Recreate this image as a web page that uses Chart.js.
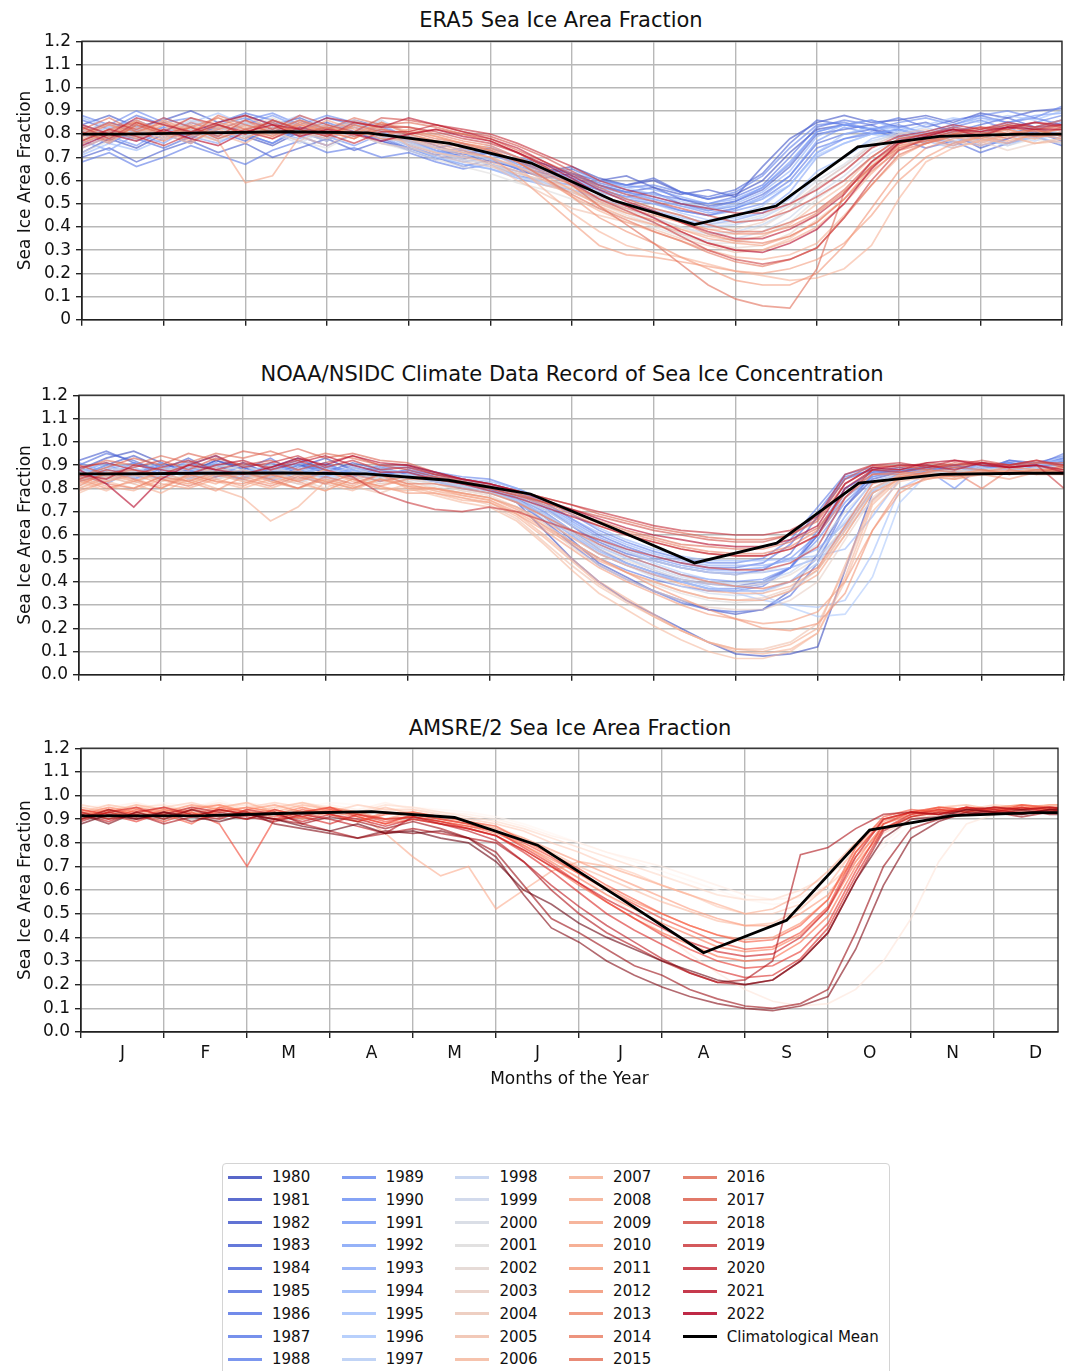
<!DOCTYPE html>
<html>
<head>
<meta charset="utf-8">
<script src="https://cdn.jsdelivr.net/npm/chart.js@4.4.0/dist/chart.umd.min.js"></script>
<style>
  body { margin: 0; background: #fff; font-family: "DejaVu Sans", sans-serif; }
  #page { position: relative; width: 1069px; height: 1371px; overflow: hidden; background: #fff; }
  #page canvas { position: absolute; left: 0; }
  .ttl { position: absolute; width: 800px; text-align: center; font-size: 21px; line-height: 24px; color: #111; white-space: nowrap; }
  #legend { position: absolute; left: 222px; top: 1163px; width: 668px; height: 215px; border: 1px solid #d4d4d4; border-radius: 4px; box-sizing: border-box; }
  .lg-line { position: absolute; width: 34px; height: 3px; }
  .lg-text { position: absolute; font-size: 15px; line-height: 18px; color: #111; white-space: nowrap; }
</style>
</head>
<body>
<div id="page">
  <div class="ttl" style="left:161px;top:8px">ERA5 Sea Ice Area Fraction</div>
  <div class="ttl" style="left:172px;top:362px">NOAA/NSIDC Climate Data Record of Sea Ice Concentration</div>
  <div class="ttl" style="left:170px;top:716px">AMSRE/2 Sea Ice Area Fraction</div>
  <canvas id="c1"></canvas>
  <canvas id="c2"></canvas>
  <canvas id="c3"></canvas>
  <div id="legend"></div>
</div>
<script>
  'use strict';

  // month axis
  var monthLabels = ['J', 'F', 'M', 'A', 'M', 'J', 'J', 'A', 'S', 'O', 'N', 'D'];
  var monthEdges = [0, 1, 2, 3, 4, 5, 6, 7, 8, 9, 10, 11, 12];
  var monthMids = [0.5, 1.5, 2.5, 3.5, 4.5, 5.5, 6.5, 7.5, 8.5, 9.5, 10.5, 11.5];

  // yearly curves are read about every 10 days (position in months)
  var sampleMonths = [0, 0.333, 0.667, 1, 1.333, 1.667, 2, 2.333, 2.667, 3, 3.333, 3.667, 4, 4.333, 4.667, 5, 5.333, 5.667, 6,
    6.333, 6.667, 7, 7.333, 7.667, 8, 8.333, 8.667, 9, 9.333, 9.667, 10, 10.333, 10.667, 11, 11.333, 11.667, 12];
  // climatological mean: monthly values at mid-month, held to the edges
  var meanMonths = [0, 0.5, 1.5, 2.5, 3.5, 4.5, 5.5, 6.5, 7.5, 8.5, 9.5, 10.5, 11.5, 12];

  // values are in percent of area
  var era5Years = [1980, 1981, 1982, 1983, 1984, 1985, 1986, 1987, 1988, 1989, 1990, 1991, 1992, 1993, 1994, 1995, 1996, 1997, 1998, 1999, 2000,
    2001, 2002, 2003, 2004, 2005, 2006, 2007, 2008, 2009, 2010, 2011, 2012, 2013, 2014, 2015, 2016, 2017, 2018, 2019, 2020, 2021, 2022];
  var era5Mean = [80, 80, 80.5, 81, 80.5, 76, 67.5, 51.5, 41, 49, 74.5, 79, 80, 80];
  var era5Values = [
    [72, 78, 74, 80, 76, 83, 79, 75, 81, 77, 84, 80, 76, 72, 69, 73, 68, 64, 66, 61, 58, 60, 55, 52, 54, 60, 72, 82, 84, 82, 80, 78, 81, 77, 80, 83, 79], // 1980
    [84, 88, 83, 86, 90, 85, 88, 84, 87, 82, 86, 83, 79, 75, 71, 74, 70, 67, 63, 60, 62, 57, 54, 56, 53, 66, 78, 85, 88, 85, 86, 88, 85, 89, 87, 90, 91],
    [70, 74, 68, 73, 77, 72, 76, 70, 74, 78, 73, 77, 74, 70, 66, 69, 65, 61, 63, 58, 55, 57, 52, 49, 51, 56, 66, 80, 82, 84, 79, 76, 80, 74, 78, 81, 77],
    [80, 76, 82, 78, 85, 81, 77, 83, 79, 75, 80, 78, 74, 71, 73, 68, 66, 63, 65, 60, 58, 61, 55, 53, 56, 63, 76, 86, 84, 86, 83, 85, 81, 84, 87, 83, 86],
    [76, 81, 78, 74, 79, 83, 80, 76, 82, 85, 81, 77, 73, 69, 72, 67, 64, 62, 59, 56, 53, 55, 50, 47, 49, 54, 62, 76, 80, 82, 78, 74, 77, 72, 76, 79, 75],
    [86, 82, 88, 84, 80, 85, 89, 86, 82, 87, 84, 80, 77, 74, 70, 72, 67, 64, 62, 59, 56, 54, 52, 50, 53, 58, 70, 83, 86, 84, 87, 83, 86, 88, 85, 87, 84], // 1985
    [68, 72, 66, 70, 75, 71, 67, 73, 77, 72, 74, 70, 72, 68, 65, 67, 62, 60, 58, 55, 52, 50, 47, 45, 48, 52, 60, 74, 78, 80, 82, 79, 76, 80, 83, 78, 81],
    [81, 85, 80, 83, 78, 84, 87, 82, 86, 81, 85, 82, 78, 74, 76, 71, 68, 65, 63, 60, 57, 58, 55, 52, 55, 62, 74, 84, 85, 82, 84, 80, 83, 86, 82, 85, 88],
    [88, 84, 90, 85, 87, 82, 86, 89, 84, 88, 85, 81, 77, 73, 70, 72, 68, 64, 61, 58, 55, 53, 50, 48, 51, 57, 67, 81, 84, 82, 85, 87, 84, 88, 90, 87, 92],
    [74, 79, 75, 82, 78, 84, 80, 76, 83, 79, 75, 80, 75, 71, 68, 70, 65, 62, 60, 56, 53, 51, 47, 45, 47, 50, 58, 72, 78, 81, 79, 76, 79, 75, 78, 82, 80],
    [80, 85, 81, 87, 83, 79, 84, 88, 83, 80, 85, 81, 76, 72, 74, 69, 66, 63, 61, 57, 55, 52, 49, 46, 48, 53, 62, 77, 83, 80, 82, 79, 82, 80, 84, 82, 85], // 1990
    [77, 73, 80, 76, 83, 79, 85, 81, 78, 84, 80, 82, 78, 74, 71, 73, 68, 65, 63, 60, 58, 56, 53, 50, 52, 57, 68, 81, 84, 82, 83, 81, 84, 87, 85, 88, 89],
    [84, 80, 78, 83, 79, 76, 82, 86, 81, 78, 83, 79, 74, 70, 67, 65, 61, 58, 56, 52, 49, 46, 43, 41, 43, 46, 55, 70, 76, 80, 82, 78, 75, 79, 76, 80, 78],
    [79, 83, 86, 81, 84, 78, 82, 85, 80, 84, 81, 85, 77, 73, 70, 72, 66, 63, 60, 57, 54, 52, 49, 47, 50, 55, 64, 79, 84, 86, 82, 80, 83, 81, 85, 83, 86],
    [71, 76, 73, 78, 82, 77, 80, 84, 79, 83, 80, 76, 74, 70, 67, 65, 62, 59, 56, 53, 50, 47, 44, 42, 44, 46, 52, 64, 70, 78, 81, 77, 74, 78, 75, 79, 76],
    [87, 83, 86, 81, 85, 89, 84, 80, 86, 82, 79, 84, 76, 72, 70, 73, 67, 64, 61, 56, 53, 50, 46, 43, 45, 49, 58, 72, 80, 83, 81, 84, 87, 85, 88, 86, 90], // 1995
    [80, 76, 83, 79, 86, 81, 78, 84, 88, 83, 80, 86, 80, 76, 73, 75, 70, 66, 64, 60, 57, 54, 51, 48, 49, 52, 58, 71, 76, 80, 78, 81, 77, 80, 76, 79, 82],
    [75, 80, 84, 78, 82, 79, 85, 81, 77, 83, 86, 81, 77, 72, 69, 67, 63, 60, 58, 53, 50, 47, 43, 40, 41, 44, 50, 62, 70, 77, 80, 83, 79, 76, 80, 77, 81],
    [82, 78, 84, 80, 76, 83, 79, 85, 81, 78, 83, 80, 75, 70, 68, 66, 62, 58, 55, 51, 48, 44, 40, 37, 38, 41, 47, 58, 66, 75, 80, 77, 81, 79, 82, 80, 78],
    [77, 83, 80, 86, 81, 78, 84, 80, 76, 82, 85, 79, 76, 72, 70, 67, 64, 59, 55, 50, 46, 42, 37, 34, 35, 38, 44, 54, 62, 72, 78, 81, 78, 82, 79, 83, 80],
    [84, 80, 77, 82, 86, 83, 79, 84, 81, 77, 83, 86, 78, 74, 72, 69, 66, 62, 59, 55, 52, 48, 45, 41, 42, 45, 50, 60, 67, 76, 81, 78, 82, 80, 84, 81, 84], // 2000
    [72, 77, 82, 78, 83, 80, 85, 81, 77, 74, 80, 76, 73, 69, 66, 63, 59, 56, 52, 48, 44, 40, 36, 33, 33, 36, 42, 52, 60, 70, 77, 80, 76, 79, 75, 78, 76],
    [81, 85, 79, 84, 80, 77, 83, 87, 82, 79, 84, 80, 76, 72, 69, 67, 63, 60, 56, 51, 47, 44, 40, 36, 37, 40, 47, 57, 64, 74, 79, 76, 80, 78, 82, 79, 80],
    [77, 80, 85, 81, 84, 79, 82, 86, 83, 80, 85, 82, 78, 74, 72, 70, 66, 61, 56, 50, 45, 41, 37, 33, 31, 32, 37, 46, 55, 67, 76, 78, 74, 77, 73, 76, 78],
    [83, 79, 81, 86, 82, 85, 79, 81, 77, 83, 80, 76, 74, 71, 68, 66, 63, 60, 57, 53, 49, 46, 42, 39, 39, 42, 49, 58, 66, 75, 80, 82, 79, 77, 80, 78, 81],
    [79, 85, 78, 82, 87, 83, 80, 84, 79, 75, 81, 78, 77, 74, 71, 67, 60, 54, 48, 45, 42, 39, 35, 32, 29, 30, 35, 43, 52, 65, 75, 78, 80, 77, 79, 76, 78], // 2005
    [76, 81, 86, 80, 83, 78, 84, 80, 85, 82, 78, 83, 75, 72, 70, 68, 64, 58, 55, 50, 46, 43, 39, 36, 34, 36, 41, 50, 58, 70, 78, 80, 77, 75, 79, 76, 77],
    [80, 84, 79, 85, 81, 87, 83, 79, 84, 81, 86, 82, 79, 77, 75, 73, 66, 56, 46, 38, 32, 29, 27, 24, 21, 19, 17, 18, 22, 32, 52, 68, 74, 77, 80, 78, 81],
    [74, 79, 83, 78, 84, 80, 76, 83, 81, 78, 84, 80, 78, 75, 72, 70, 66, 60, 53, 47, 42, 38, 34, 30, 27, 26, 28, 33, 45, 58, 70, 76, 79, 76, 80, 82, 79],
    [82, 78, 85, 80, 76, 83, 88, 82, 86, 83, 80, 85, 80, 77, 75, 73, 68, 62, 56, 49, 44, 41, 38, 33, 30, 30, 34, 40, 50, 63, 74, 78, 81, 78, 76, 80, 82],
    [78, 82, 80, 86, 81, 77, 59, 62, 79, 84, 80, 85, 81, 79, 76, 74, 70, 64, 58, 51, 46, 43, 39, 35, 33, 32, 36, 42, 52, 66, 76, 78, 75, 79, 82, 79, 80], // 2010
    [81, 76, 84, 79, 85, 82, 78, 84, 80, 86, 82, 78, 78, 76, 73, 70, 62, 52, 42, 32, 28, 27, 25, 23, 21, 20, 22, 26, 33, 45, 60, 70, 76, 79, 77, 80, 78],
    [76, 81, 78, 84, 79, 85, 82, 78, 84, 80, 83, 79, 82, 79, 76, 74, 68, 61, 53, 44, 38, 33, 27, 22, 17, 15, 15, 20, 32, 48, 64, 74, 78, 80, 82, 79, 83],
    [83, 79, 86, 81, 77, 82, 86, 80, 84, 81, 78, 85, 80, 77, 74, 72, 69, 63, 58, 52, 48, 45, 42, 39, 37, 37, 40, 46, 55, 66, 75, 77, 80, 78, 81, 79, 80],
    [79, 84, 81, 77, 83, 87, 82, 79, 85, 81, 78, 84, 83, 80, 77, 75, 70, 65, 60, 54, 49, 46, 42, 37, 34, 33, 36, 42, 52, 64, 73, 76, 80, 83, 80, 82, 79],
    [77, 82, 85, 81, 78, 84, 80, 86, 82, 79, 84, 81, 81, 78, 76, 73, 68, 61, 54, 48, 43, 38, 34, 29, 25, 23, 26, 31, 44, 58, 71, 76, 79, 81, 78, 82, 83], // 2015
    [82, 87, 81, 85, 80, 88, 84, 81, 86, 82, 87, 84, 85, 83, 80, 77, 72, 66, 58, 49, 41, 33, 24, 15, 9, 6, 5, 22, 55, 66, 74, 77, 80, 82, 84, 83, 86],
    [81, 77, 84, 80, 83, 78, 82, 85, 80, 83, 79, 82, 80, 82, 80, 78, 73, 68, 63, 57, 52, 48, 45, 41, 38, 38, 42, 47, 56, 68, 76, 79, 82, 80, 83, 81, 82],
    [80, 85, 82, 87, 83, 79, 86, 82, 88, 84, 81, 87, 86, 84, 81, 79, 75, 70, 64, 58, 54, 51, 48, 45, 42, 43, 47, 53, 60, 70, 78, 80, 83, 81, 84, 82, 84],
    [83, 78, 85, 81, 87, 84, 80, 86, 82, 79, 85, 83, 83, 81, 78, 76, 72, 66, 59, 52, 47, 42, 36, 30, 26, 24, 26, 31, 44, 60, 73, 78, 81, 83, 82, 85, 83],
    [77, 82, 79, 75, 80, 84, 81, 78, 83, 80, 76, 81, 81, 84, 82, 80, 76, 71, 66, 60, 56, 53, 50, 48, 46, 46, 50, 56, 64, 74, 79, 81, 84, 82, 85, 83, 84], // 2020
    [84, 80, 87, 84, 81, 85, 88, 84, 82, 87, 85, 83, 87, 84, 81, 78, 74, 68, 62, 56, 51, 47, 42, 38, 35, 35, 39, 45, 54, 68, 77, 80, 82, 79, 83, 85, 84],
    [75, 80, 77, 82, 78, 75, 81, 84, 79, 82, 80, 77, 80, 82, 79, 77, 72, 67, 61, 54, 49, 44, 38, 33, 30, 29, 33, 39, 50, 65, 76, 79, 82, 81, 83, 82, 82]  // 2022
  ];

  var noaaYears = era5Years;
  var noaaMean = [86.2, 86.2, 86.5, 86.6, 86.2, 83.5, 77.6, 63, 48, 56.5, 82.3, 86, 86.5, 86.5];
  var noaaValues = [
    [88, 93, 96, 91, 87, 92, 89, 85, 90, 87, 91, 88, 86, 84, 82, 80, 74, 62, 50, 40, 32, 26, 20, 14, 9, 8, 9, 12, 45, 78, 86, 88, 86, 89, 90, 88, 92], // 1980
    [85, 90, 94, 89, 86, 92, 88, 84, 89, 93, 88, 85, 88, 85, 83, 81, 76, 68, 58, 48, 42, 36, 32, 28, 26, 28, 36, 52, 72, 84, 87, 89, 86, 91, 88, 90, 90],
    [92, 96, 91, 88, 93, 87, 91, 86, 90, 88, 85, 89, 85, 83, 81, 79, 76, 70, 62, 54, 48, 44, 41, 39, 38, 40, 46, 60, 80, 87, 89, 87, 90, 88, 92, 91, 94],
    [84, 88, 86, 91, 87, 90, 86, 89, 93, 88, 86, 90, 90, 87, 84, 82, 78, 72, 64, 57, 52, 49, 46, 44, 43, 45, 52, 68, 84, 88, 87, 90, 87, 89, 91, 89, 91],
    [90, 95, 92, 87, 90, 94, 88, 93, 86, 89, 87, 83, 87, 85, 82, 80, 75, 66, 56, 47, 41, 36, 31, 28, 27, 28, 34, 48, 72, 86, 88, 86, 88, 91, 89, 90, 93],
    [86, 82, 88, 85, 89, 86, 84, 91, 87, 85, 89, 86, 88, 86, 84, 82, 79, 74, 67, 60, 55, 51, 48, 46, 46, 48, 56, 70, 85, 88, 86, 87, 86, 89, 91, 88, 90], // 1985
    [83, 87, 85, 90, 84, 89, 86, 88, 84, 87, 85, 89, 86, 84, 81, 79, 74, 66, 57, 50, 45, 41, 38, 36, 36, 38, 46, 60, 78, 86, 88, 89, 87, 88, 92, 90, 95],
    [89, 85, 91, 86, 92, 85, 90, 87, 91, 88, 85, 89, 89, 87, 85, 84, 80, 75, 69, 62, 57, 53, 50, 48, 48, 50, 58, 72, 86, 89, 87, 88, 90, 87, 89, 91, 92],
    [87, 91, 84, 89, 86, 91, 85, 88, 92, 86, 90, 87, 86, 84, 82, 80, 75, 68, 60, 52, 47, 43, 40, 37, 37, 39, 46, 62, 80, 87, 86, 87, 89, 88, 91, 90, 93],
    [85, 89, 87, 84, 88, 86, 90, 85, 88, 91, 86, 89, 86, 84, 82, 80, 77, 71, 64, 56, 51, 47, 43, 41, 40, 41, 46, 58, 74, 85, 87, 88, 80, 90, 88, 91, 91],
    [91, 87, 85, 90, 86, 88, 84, 89, 86, 90, 87, 85, 88, 85, 83, 81, 78, 73, 66, 59, 54, 50, 47, 45, 45, 46, 50, 60, 76, 85, 88, 86, 89, 88, 90, 88, 92], // 1990
    [84, 88, 91, 86, 89, 85, 88, 83, 87, 91, 86, 88, 85, 83, 80, 78, 75, 69, 61, 53, 48, 44, 40, 37, 36, 36, 40, 50, 68, 83, 86, 89, 87, 88, 91, 89, 90],
    [88, 84, 86, 90, 85, 90, 87, 84, 88, 85, 89, 86, 87, 84, 82, 81, 78, 72, 65, 58, 53, 49, 46, 44, 44, 44, 46, 50, 63, 79, 87, 86, 89, 88, 90, 89, 93],
    [86, 90, 84, 87, 91, 86, 84, 89, 86, 82, 88, 85, 86, 85, 83, 82, 79, 74, 67, 61, 56, 52, 49, 47, 47, 47, 49, 54, 65, 78, 86, 88, 87, 90, 87, 90, 91],
    [83, 86, 89, 85, 87, 91, 86, 87, 90, 85, 88, 84, 88, 86, 84, 83, 80, 75, 69, 63, 58, 54, 51, 49, 49, 49, 50, 51, 54, 68, 84, 87, 89, 87, 88, 88, 90],
    [89, 85, 87, 91, 84, 87, 90, 85, 88, 84, 87, 90, 85, 84, 82, 80, 76, 70, 62, 55, 50, 45, 41, 38, 35, 32, 30, 29, 32, 52, 80, 86, 88, 90, 89, 91, 92], // 1995
    [87, 91, 86, 84, 89, 85, 87, 90, 86, 89, 85, 88, 87, 85, 83, 82, 78, 72, 65, 58, 53, 48, 44, 41, 38, 34, 29, 25, 26, 42, 74, 86, 87, 86, 89, 90, 94],
    [84, 87, 90, 88, 85, 89, 84, 86, 89, 85, 87, 83, 86, 84, 81, 79, 75, 68, 60, 53, 48, 44, 40, 37, 36, 36, 40, 48, 62, 75, 86, 85, 88, 86, 88, 90, 91],
    [86, 83, 88, 85, 89, 84, 87, 85, 82, 87, 84, 86, 84, 82, 80, 78, 75, 69, 62, 55, 50, 46, 42, 40, 39, 40, 44, 52, 66, 80, 86, 87, 85, 89, 86, 89, 88],
    [83, 87, 85, 89, 84, 88, 85, 87, 83, 86, 89, 85, 86, 84, 81, 79, 74, 67, 59, 52, 47, 42, 38, 35, 34, 35, 40, 48, 64, 79, 85, 86, 88, 86, 87, 88, 90],
    [88, 85, 82, 87, 90, 86, 83, 88, 85, 82, 86, 89, 85, 83, 81, 79, 76, 71, 64, 58, 53, 49, 46, 44, 43, 44, 48, 56, 70, 82, 87, 85, 87, 89, 87, 88, 89], // 2000
    [85, 89, 87, 83, 86, 90, 88, 84, 87, 83, 80, 85, 83, 81, 78, 76, 72, 65, 57, 50, 44, 39, 35, 32, 31, 32, 36, 45, 62, 78, 86, 88, 86, 87, 90, 88, 88],
    [81, 85, 88, 86, 83, 87, 90, 86, 84, 88, 85, 82, 84, 82, 79, 78, 74, 68, 61, 54, 49, 45, 41, 39, 38, 39, 43, 50, 64, 80, 85, 86, 88, 87, 86, 89, 90],
    [87, 83, 85, 89, 87, 84, 86, 89, 86, 83, 87, 84, 85, 82, 79, 77, 72, 64, 55, 47, 41, 36, 32, 29, 28, 28, 32, 40, 58, 76, 86, 85, 84, 87, 89, 88, 87],
    [84, 88, 83, 86, 90, 87, 84, 87, 84, 80, 85, 82, 83, 80, 78, 76, 72, 65, 57, 50, 44, 40, 36, 33, 32, 33, 37, 45, 60, 78, 84, 87, 88, 86, 88, 87, 89],
    [80, 84, 87, 83, 85, 89, 86, 83, 80, 84, 81, 78, 82, 79, 76, 73, 67, 57, 47, 38, 31, 25, 19, 14, 11, 11, 14, 22, 45, 74, 85, 86, 84, 88, 87, 87, 86], // 2005
    [78, 83, 80, 85, 82, 86, 88, 85, 82, 79, 84, 80, 80, 77, 74, 72, 66, 56, 45, 35, 28, 21, 15, 10, 7, 7, 10, 18, 40, 70, 83, 85, 86, 88, 86, 87, 88],
    [83, 79, 84, 81, 86, 83, 80, 84, 88, 82, 79, 84, 82, 79, 77, 75, 69, 60, 50, 40, 33, 26, 19, 14, 10, 9, 11, 18, 42, 73, 84, 86, 85, 88, 86, 87, 86],
    [80, 85, 82, 78, 84, 80, 76, 66, 72, 83, 80, 84, 81, 78, 75, 74, 68, 59, 49, 39, 32, 25, 19, 14, 11, 10, 13, 20, 47, 75, 85, 84, 86, 87, 86, 88, 89],
    [85, 81, 79, 84, 82, 86, 83, 80, 84, 88, 83, 80, 79, 80, 78, 76, 72, 66, 59, 52, 47, 43, 39, 36, 35, 35, 38, 45, 62, 80, 86, 85, 87, 86, 88, 87, 87],
    [82, 86, 83, 80, 85, 82, 87, 83, 80, 84, 81, 86, 80, 80, 77, 75, 70, 63, 56, 49, 44, 40, 36, 33, 32, 32, 36, 43, 60, 78, 84, 87, 85, 86, 87, 88, 88], // 2010
    [79, 83, 86, 82, 80, 84, 81, 86, 83, 79, 84, 81, 78, 78, 76, 74, 69, 62, 54, 46, 40, 35, 30, 26, 24, 22, 23, 27, 40, 62, 78, 85, 84, 86, 84, 87, 89],
    [84, 80, 83, 87, 83, 79, 85, 82, 86, 83, 80, 84, 81, 80, 78, 76, 71, 64, 57, 50, 44, 38, 33, 28, 24, 20, 19, 22, 35, 62, 80, 84, 86, 88, 87, 86, 86],
    [81, 87, 84, 80, 86, 83, 82, 86, 83, 87, 84, 81, 84, 84, 82, 80, 77, 73, 69, 64, 60, 57, 54, 52, 51, 51, 54, 60, 76, 86, 87, 86, 85, 87, 89, 88, 88],
    [86, 82, 80, 85, 83, 87, 84, 81, 85, 82, 86, 83, 85, 85, 83, 81, 78, 74, 70, 65, 61, 58, 55, 53, 52, 52, 55, 62, 78, 86, 86, 88, 87, 80, 88, 86, 90],
    [83, 86, 88, 84, 81, 85, 87, 84, 80, 85, 82, 86, 82, 82, 80, 78, 74, 68, 62, 56, 51, 47, 43, 40, 38, 37, 40, 46, 64, 82, 85, 87, 89, 88, 86, 88, 87], // 2015
    [88, 92, 90, 94, 91, 95, 93, 96, 92, 95, 93, 90, 90, 86, 83, 81, 78, 74, 70, 66, 62, 59, 56, 55, 54, 54, 57, 63, 78, 88, 88, 90, 89, 91, 90, 91, 90],
    [85, 89, 93, 90, 95, 92, 96, 94, 97, 93, 95, 92, 91, 87, 84, 82, 79, 76, 73, 69, 66, 63, 61, 59, 58, 58, 60, 66, 82, 89, 90, 88, 91, 90, 89, 91, 91],
    [90, 86, 89, 92, 88, 93, 90, 92, 88, 91, 94, 90, 88, 85, 82, 80, 77, 74, 71, 68, 65, 62, 60, 58, 57, 57, 60, 67, 84, 90, 89, 91, 90, 92, 90, 92, 89],
    [84, 88, 86, 89, 92, 88, 91, 89, 92, 88, 85, 78, 74, 71, 70, 72, 70, 66, 62, 58, 54, 51, 48, 46, 45, 45, 48, 55, 76, 88, 87, 89, 90, 91, 89, 90, 80],
    [89, 91, 88, 86, 90, 94, 89, 91, 94, 89, 92, 88, 89, 86, 84, 82, 79, 76, 73, 70, 67, 64, 62, 61, 60, 60, 62, 68, 86, 90, 91, 89, 92, 91, 90, 92, 90], // 2020
    [86, 84, 90, 88, 86, 90, 92, 88, 91, 94, 90, 87, 87, 84, 82, 79, 76, 72, 68, 64, 60, 57, 54, 52, 51, 51, 54, 60, 80, 88, 90, 90, 88, 91, 89, 90, 87],
    [88, 82, 72, 84, 90, 88, 86, 89, 93, 90, 94, 91, 90, 87, 84, 82, 79, 75, 71, 67, 63, 60, 58, 56, 55, 55, 58, 64, 82, 89, 88, 91, 92, 90, 89, 90, 88]  // 2022
  ];

  var amsrYears = [2002, 2003, 2004, 2005, 2006, 2007, 2008, 2009, 2010, 2011, 2012, 2013, 2014, 2015, 2016, 2017, 2018, 2019, 2020, 2021, 2022];
  var amsrMean = [91.4, 91.4, 91.5, 92.5, 93.2, 90.7, 79, 56.5, 33.5, 47.2, 85.4, 91.5, 92.8, 92.8];
  var amsrValues = [
    [95, 96, 94, 97, 95, 98, 94, 96, 95, 97, 96, 94, 95, 94, 93, 91, 88, 84, 80, 76, 72, 68, 64, 60, 56, 54, 55, 60, 68, 78, 88, 93, 95, 94, 96, 95, 96], // 2002
    [93, 95, 97, 94, 96, 95, 97, 95, 93, 96, 94, 97, 94, 93, 92, 90, 87, 83, 80, 76, 73, 70, 66, 62, 58, 56, 57, 62, 70, 80, 90, 94, 93, 95, 94, 95, 94],
    [92, 94, 96, 93, 95, 97, 94, 96, 93, 95, 92, 94, 93, 91, 89, 87, 82, 75, 67, 58, 50, 42, 33, 25, 18, 13, 11, 12, 18, 30, 48, 72, 88, 92, 94, 93, 95],
    [94, 92, 95, 96, 93, 95, 96, 94, 97, 95, 93, 96, 95, 93, 91, 89, 86, 82, 78, 74, 70, 66, 62, 58, 56, 56, 60, 66, 76, 86, 91, 93, 95, 94, 96, 95, 95], // 2005
    [96, 94, 93, 95, 97, 94, 95, 97, 95, 93, 96, 94, 94, 92, 90, 88, 85, 80, 76, 71, 67, 62, 58, 53, 50, 50, 54, 62, 72, 84, 90, 92, 94, 96, 95, 94, 94],
    [93, 96, 94, 92, 95, 96, 93, 95, 97, 94, 92, 95, 92, 90, 88, 85, 81, 76, 70, 65, 60, 55, 51, 47, 45, 46, 52, 62, 78, 88, 92, 94, 93, 95, 96, 95, 95],
    [95, 93, 96, 94, 92, 95, 97, 93, 96, 94, 92, 84, 74, 66, 70, 52, 60, 68, 72, 70, 66, 62, 58, 54, 50, 52, 58, 68, 80, 90, 93, 95, 96, 94, 95, 96, 96],
    [91, 94, 92, 95, 93, 91, 94, 96, 93, 95, 92, 90, 93, 91, 89, 86, 82, 77, 72, 67, 62, 57, 52, 48, 45, 45, 50, 58, 74, 86, 91, 93, 95, 93, 94, 96, 96],
    [94, 91, 95, 93, 96, 94, 92, 94, 91, 95, 93, 90, 91, 89, 87, 84, 79, 73, 67, 61, 55, 50, 45, 41, 39, 40, 46, 56, 76, 89, 93, 94, 93, 95, 96, 94, 94], // 2010
    [92, 95, 93, 90, 94, 96, 93, 92, 95, 92, 89, 93, 92, 90, 88, 85, 79, 72, 65, 58, 52, 46, 41, 36, 34, 35, 41, 52, 72, 88, 92, 95, 94, 93, 95, 94, 95],
    [90, 93, 91, 94, 92, 93, 95, 93, 90, 93, 91, 88, 90, 88, 86, 83, 77, 70, 62, 55, 48, 42, 37, 32, 30, 31, 38, 49, 70, 86, 91, 94, 93, 95, 94, 95, 94],
    [93, 90, 94, 92, 88, 95, 93, 91, 94, 92, 89, 92, 93, 91, 89, 87, 81, 75, 69, 62, 56, 50, 45, 41, 38, 39, 45, 56, 78, 91, 94, 93, 95, 94, 95, 94, 96],
    [91, 94, 92, 89, 93, 88, 70, 90, 91, 94, 92, 89, 91, 89, 87, 85, 80, 74, 67, 60, 54, 48, 43, 38, 35, 36, 42, 53, 76, 90, 93, 95, 94, 93, 96, 95, 95],
    [94, 92, 89, 93, 91, 94, 92, 90, 93, 95, 91, 88, 92, 90, 88, 85, 78, 71, 63, 55, 48, 41, 35, 30, 27, 28, 34, 46, 68, 88, 93, 92, 95, 94, 93, 94, 93], // 2015
    [90, 93, 95, 91, 94, 92, 90, 94, 91, 88, 92, 90, 91, 89, 86, 83, 76, 68, 59, 50, 43, 37, 31, 26, 23, 24, 31, 44, 66, 86, 92, 94, 93, 95, 94, 95, 94],
    [92, 89, 93, 95, 92, 90, 94, 92, 89, 92, 90, 87, 90, 88, 86, 83, 77, 70, 63, 56, 50, 44, 38, 34, 32, 33, 40, 52, 74, 90, 93, 92, 95, 93, 95, 93, 95],
    [89, 93, 90, 92, 95, 93, 91, 89, 92, 90, 87, 84, 91, 88, 85, 81, 72, 62, 53, 45, 38, 31, 25, 21, 20, 22, 30, 42, 64, 85, 91, 93, 92, 94, 92, 94, 93],
    [93, 90, 92, 88, 91, 94, 92, 90, 88, 85, 82, 84, 86, 84, 82, 80, 72, 60, 50, 42, 36, 30, 25, 21, 22, 30, 75, 78, 86, 92, 93, 92, 94, 95, 94, 95, 94],
    [90, 94, 91, 93, 89, 92, 90, 93, 88, 91, 89, 86, 89, 86, 82, 76, 62, 48, 42, 35, 28, 24, 18, 14, 11, 10, 12, 18, 42, 70, 86, 90, 92, 93, 91, 93, 93], // 2020
    [92, 88, 93, 90, 94, 91, 93, 88, 86, 84, 82, 85, 84, 85, 82, 74, 58, 44, 38, 30, 24, 19, 15, 12, 10, 9, 11, 15, 35, 62, 82, 89, 93, 92, 94, 92, 92],
    [88, 92, 90, 93, 91, 89, 92, 90, 87, 85, 88, 84, 85, 82, 80, 72, 60, 54, 46, 40, 35, 30, 26, 22, 20, 22, 30, 42, 64, 82, 90, 91, 94, 93, 92, 94, 94]  // 2022
  ];

  var firstYear = 1980;
  var lastYear = 2022;

  // matplotlib "coolwarm" and "Reds" stops
  var coolwarmStops = [
    [0, 59, 76, 192], [0.125, 85, 114, 227], [0.25, 115, 150, 245], [0.375, 170, 199, 253],
    [0.5, 221, 220, 220], [0.625, 246, 183, 156], [0.75, 244, 154, 123], [0.875, 222, 102, 81], [1, 180, 4, 38]
  ];
  var redsStops = [
    [0, 255, 245, 240], [0.125, 254, 224, 210], [0.25, 252, 187, 161], [0.375, 252, 146, 114],
    [0.5, 251, 106, 74], [0.625, 239, 59, 44], [0.75, 203, 24, 29], [0.875, 165, 15, 21], [1, 103, 0, 13]
  ];

  function cmap(stops, t, alpha) {
    var i = 0;
    while (i < stops.length - 2 && t > stops[i + 1][0]) {
      i++;
    }
    var a = stops[i], b = stops[i + 1];
    var f = (t - a[0]) / (b[0] - a[0]);
    var r = Math.round(a[1] + (b[1] - a[1]) * f);
    var g = Math.round(a[2] + (b[2] - a[2]) * f);
    var bl = Math.round(a[3] + (b[3] - a[3]) * f);
    return 'rgba(' + r + ',' + g + ',' + bl + ',' + alpha + ')';
  }

  function yearColor(year, alpha) {
    return cmap(coolwarmStops, (year - firstYear) / (lastYear - firstYear), alpha);
  }

  function amsrColor(year, alpha) {
    return cmap(redsStops, (year - amsrYears[0]) / (amsrYears[amsrYears.length - 1] - amsrYears[0]), alpha);
  }

  Chart.defaults.font.family = '"DejaVu Sans", sans-serif';
  Chart.defaults.color = '#111';

  // matplotlib-like box round the plot area
  var framePlugin = {
    id: 'frame',
    afterDraw: function (chart) {
      var a = chart.chartArea;
      var c = chart.ctx;
      c.save();
      c.strokeStyle = '#222';
      c.lineWidth = 1.3;
      c.strokeRect(a.left, a.top, a.right - a.left, a.bottom - a.top);
      c.restore();
    }
  };

  function makeChart(p) {
    var padTop = 12;
    var padLeft = 11;
    var xh = p.showMonths ? 62 : 8;
    var w = 1069;
    var h = padTop + (p.box.bottom - p.box.top) + xh + 4;
    var canvas = document.getElementById(p.id);
    canvas.width = w;
    canvas.height = h;
    canvas.style.width = w + 'px';
    canvas.style.height = h + 'px';
    canvas.style.top = (p.box.top - padTop) + 'px';

    var datasets = [];
    datasets.push({
      label: 'Climatological Mean',
      data: p.mean.map(function (v, i) { return { x: meanMonths[i], y: v / 100 }; }),
      borderColor: '#000',
      borderWidth: 2.8,
      pointRadius: 0,
      tension: 0,
      order: -100
    });
    p.years.forEach(function (year, k) {
      datasets.push({
        label: String(year),
        data: p.values[k].map(function (v, i) { return { x: sampleMonths[i], y: v / 100 }; }),
        borderColor: p.color(year, 0.6),
        borderWidth: 1.7,
        pointRadius: 0,
        tension: 0,
        order: -k
      });
    });

    return new Chart(canvas.getContext('2d'), {
      type: 'line',
      data: { datasets: datasets },
      options: {
        responsive: false,
        animation: false,
        events: [],
        layout: { padding: { top: padTop, left: padLeft, right: w - p.box.right, bottom: 4 } },
        plugins: { legend: { display: false }, tooltip: { enabled: false } },
        scales: {
          x: {
            type: 'linear',
            min: 0,
            max: p.xMax,
            afterBuildTicks: function (s) {
              var t = [];
              monthEdges.concat(monthMids).forEach(function (v) {
                if (v <= p.xMax) {
                  t.push({ value: v });
                }
              });
              t.sort(function (a, b) { return a.value - b.value; });
              s.ticks = t;
            },
            afterFit: function (s) { s.height = xh; },
            grid: {
              color: function (c) { return (c.tick && c.tick.value % 1 === 0) ? '#b8b8b8' : 'rgba(0,0,0,0)'; },
              tickColor: function (c) { return (c.tick && c.tick.value % 1 === 0) ? '#222' : 'rgba(0,0,0,0)'; },
              lineWidth: 1.4,
              tickLength: 6
            },
            border: { color: '#222', width: 1.3 },
            ticks: {
              autoSkip: false,
              maxRotation: 0,
              padding: 5,
              font: { size: 17 },
              callback: function (v) {
                var i = monthMids.indexOf(v);
                return (p.showMonths && i >= 0) ? monthLabels[i] : '';
              }
            },
            title: {
              display: p.showMonths,
              text: 'Months of the Year',
              font: { size: 17 },
              padding: { top: 4, bottom: 4 }
            }
          },
          y: {
            min: 0,
            max: 1.2,
            afterFit: function (s) { s.width = p.box.left - padLeft; },
            grid: { color: '#b8b8b8', lineWidth: 1.4, tickLength: 6, tickColor: '#222' },
            border: { color: '#222', width: 1.3 },
            ticks: {
              stepSize: 0.1,
              padding: 5,
              font: { size: 17 },
              callback: function (v) {
                return Math.abs(v) < 1e-9 ? p.zeroLabel : Number(v).toFixed(1);
              }
            },
            title: {
              display: true,
              text: 'Sea Ice Area Fraction',
              font: { size: 17 },
              padding: { top: 4, bottom: 4 }
            }
          }
        }
      },
      plugins: [framePlugin]
    });
  }

  makeChart({ id: 'c1', years: era5Years, values: era5Values, mean: era5Mean, zeroLabel: '0', color: yearColor,
    box: { left: 82, right: 1062, top: 38, bottom: 323 }, xMax: 12, showMonths: false });
  makeChart({ id: 'c2', years: noaaYears, values: noaaValues, mean: noaaMean, zeroLabel: '0.0', color: yearColor,
    box: { left: 79, right: 1065, top: 392, bottom: 678 }, xMax: 12, showMonths: false });
  makeChart({ id: 'c3', years: amsrYears, values: amsrValues, mean: amsrMean, zeroLabel: '0.0', color: amsrColor,
    box: { left: 81, right: 1058, top: 745, bottom: 1032 }, xMax: 11.77, showMonths: true });

  // legend: 5 columns of 9 rows, years then the mean
  var legend = document.getElementById('legend');
  var entries = [];
  for (var yr = firstYear; yr <= lastYear; yr++) {
    entries.push({ text: String(yr), color: yearColor(yr, 0.85) });
  }
  entries.push({ text: 'Climatological Mean', color: '#000' });
  entries.forEach(function (e, i) {
    var col = Math.floor(i / 9);
    var row = i % 9;
    var x = 5 + col * 113.7;
    var y = 13 + row * 22.8;
    var line = document.createElement('div');
    line.className = 'lg-line';
    line.style.left = x + 'px';
    line.style.top = (y - 1.5) + 'px';
    line.style.background = e.color;
    legend.appendChild(line);
    var label = document.createElement('div');
    label.className = 'lg-text';
    label.style.left = (x + 44) + 'px';
    label.style.top = (y - 9) + 'px';
    label.textContent = e.text;
    legend.appendChild(label);
  });
</script>
</body>
</html>
